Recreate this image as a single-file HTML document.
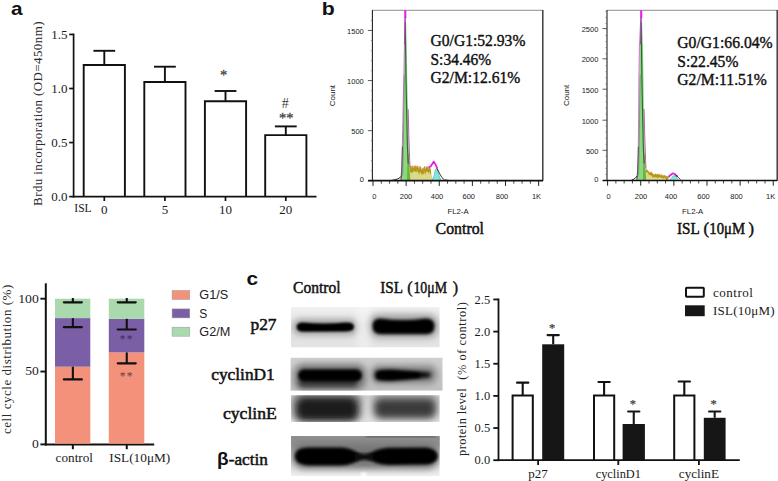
<!DOCTYPE html>
<html><head><meta charset="utf-8"><title>Figure</title>
<style>
html,body{margin:0;padding:0;background:#fff;}
body{width:778px;height:481px;overflow:hidden;font-family:"Liberation Serif",serif;}
svg{display:block;}
</style></head><body>
<svg width="778" height="481" viewBox="0 0 778 481">
<rect x="0" y="0" width="778" height="481" fill="#ffffff"/>
<text x="10.9" y="15.2" font-family="Liberation Sans, sans-serif" font-size="18.5" text-anchor="start" font-weight="bold" fill="#111" textLength="11.5" lengthAdjust="spacingAndGlyphs" >a</text>
<text x="321.8" y="15.4" font-family="Liberation Sans, sans-serif" font-size="18" text-anchor="start" font-weight="bold" fill="#111" textLength="13" lengthAdjust="spacingAndGlyphs" >b</text>
<text x="246.6" y="285" font-family="Liberation Sans, sans-serif" font-size="18.5" text-anchor="start" font-weight="bold" fill="#111" textLength="11.6" lengthAdjust="spacingAndGlyphs" >c</text>
<path d="M83.69999999999999,196.6 V65.0 H124.9 V196.6" fill="#fff" stroke="#111" stroke-width="1.9"/>
<line x1="104.3" y1="65.0" x2="104.3" y2="50.8" stroke="#111" stroke-width="1.9" stroke-linecap="butt"/>
<line x1="93.39999999999999" y1="50.8" x2="115.2" y2="50.8" stroke="#111" stroke-width="1.9" stroke-linecap="butt"/>
<line x1="104.3" y1="196.6" x2="104.3" y2="201" stroke="#111" stroke-width="1.7" stroke-linecap="butt"/>
<text x="104.3" y="213.5" font-family="Liberation Serif, serif" font-size="13" text-anchor="middle" font-weight="normal" fill="#1a1a1a" >0</text>
<path d="M144.3,196.6 V82.0 H185.5 V196.6" fill="#fff" stroke="#111" stroke-width="1.9"/>
<line x1="164.9" y1="82.0" x2="164.9" y2="66.7" stroke="#111" stroke-width="1.9" stroke-linecap="butt"/>
<line x1="154.0" y1="66.7" x2="175.8" y2="66.7" stroke="#111" stroke-width="1.9" stroke-linecap="butt"/>
<line x1="164.9" y1="196.6" x2="164.9" y2="201" stroke="#111" stroke-width="1.7" stroke-linecap="butt"/>
<text x="164.9" y="213.5" font-family="Liberation Serif, serif" font-size="13" text-anchor="middle" font-weight="normal" fill="#1a1a1a" >5</text>
<path d="M204.9,196.6 V101.3 H246.1 V196.6" fill="#fff" stroke="#111" stroke-width="1.9"/>
<line x1="225.5" y1="101.3" x2="225.5" y2="91.0" stroke="#111" stroke-width="1.9" stroke-linecap="butt"/>
<line x1="214.6" y1="91.0" x2="236.4" y2="91.0" stroke="#111" stroke-width="1.9" stroke-linecap="butt"/>
<line x1="225.5" y1="196.6" x2="225.5" y2="201" stroke="#111" stroke-width="1.7" stroke-linecap="butt"/>
<text x="225.5" y="213.5" font-family="Liberation Serif, serif" font-size="13" text-anchor="middle" font-weight="normal" fill="#1a1a1a" >10</text>
<path d="M265.2,196.6 V135.1 H306.40000000000003 V196.6" fill="#fff" stroke="#111" stroke-width="1.9"/>
<line x1="285.8" y1="135.1" x2="285.8" y2="126.4" stroke="#111" stroke-width="1.9" stroke-linecap="butt"/>
<line x1="274.90000000000003" y1="126.4" x2="296.7" y2="126.4" stroke="#111" stroke-width="1.9" stroke-linecap="butt"/>
<line x1="285.8" y1="196.6" x2="285.8" y2="201" stroke="#111" stroke-width="1.7" stroke-linecap="butt"/>
<text x="285.8" y="213.5" font-family="Liberation Serif, serif" font-size="13" text-anchor="middle" font-weight="normal" fill="#1a1a1a" >20</text>
<line x1="73.6" y1="33.55000000000002" x2="73.6" y2="197.5" stroke="#111" stroke-width="1.7" stroke-linecap="butt"/>
<line x1="72.69999999999999" y1="196.6" x2="316.5" y2="196.6" stroke="#111" stroke-width="1.7" stroke-linecap="butt"/>
<line x1="69.2" y1="196.6" x2="73.6" y2="196.6" stroke="#111" stroke-width="1.7" stroke-linecap="butt"/>
<text x="67.4" y="200.9" font-family="Liberation Serif, serif" font-size="13" text-anchor="end" font-weight="normal" fill="#1a1a1a" >0.0</text>
<line x1="69.2" y1="142.55" x2="73.6" y2="142.55" stroke="#111" stroke-width="1.7" stroke-linecap="butt"/>
<text x="67.4" y="146.85000000000002" font-family="Liberation Serif, serif" font-size="13" text-anchor="end" font-weight="normal" fill="#1a1a1a" >0.5</text>
<line x1="69.2" y1="88.5" x2="73.6" y2="88.5" stroke="#111" stroke-width="1.7" stroke-linecap="butt"/>
<text x="67.4" y="92.8" font-family="Liberation Serif, serif" font-size="13" text-anchor="end" font-weight="normal" fill="#1a1a1a" >1.0</text>
<line x1="69.2" y1="34.45000000000002" x2="73.6" y2="34.45000000000002" stroke="#111" stroke-width="1.7" stroke-linecap="butt"/>
<text x="67.4" y="38.750000000000014" font-family="Liberation Serif, serif" font-size="13" text-anchor="end" font-weight="normal" fill="#1a1a1a" >1.5</text>
<text x="74.3" y="212" font-family="Liberation Serif, serif" font-size="13.5" text-anchor="start" font-weight="normal" fill="#1a1a1a" textLength="17.3" lengthAdjust="spacingAndGlyphs" >ISL</text>
<text transform="translate(42.3,205.9) rotate(-90)" font-family="Liberation Serif, serif" font-size="13" fill="#2a2a2a" textLength="184.4" lengthAdjust="spacing">Brdu incorporation (OD=450nm)</text>
<text x="223.6" y="79.6" font-family="Liberation Serif, serif" font-size="14.5" text-anchor="middle" font-weight="normal" fill="#4a4a4a" stroke="#4a4a4a" stroke-width="0.3">*</text>
<text x="285.3" y="108.4" font-family="Liberation Serif, serif" font-size="14" text-anchor="middle" font-weight="normal" fill="#3a3a3a" >#</text>
<text x="286.2" y="122.8" font-family="Liberation Serif, serif" font-size="14.5" text-anchor="middle" font-weight="normal" fill="#4a4a4a" stroke="#4a4a4a" stroke-width="0.3">**</text>
<rect x="372.4" y="10.2" width="170.60000000000002" height="170.5" fill="#fff" stroke="none" stroke-width="0" />
<line x1="372.4" y1="10.299999999999999" x2="543" y2="10.299999999999999" stroke="#808080" stroke-width="0.9" stroke-linecap="butt"/>
<line x1="542.8" y1="9.899999999999999" x2="542.8" y2="180.7" stroke="#333" stroke-width="1.4" stroke-linecap="butt"/>
<line x1="372.4" y1="9.899999999999999" x2="372.4" y2="180.7" stroke="#222" stroke-width="1.1" stroke-linecap="butt"/>
<line x1="367.9" y1="180.7" x2="372.4" y2="180.7" stroke="#333" stroke-width="0.8" stroke-linecap="butt"/>
<text x="363.79999999999995" y="181.89999999999998" font-family="Liberation Sans, sans-serif" font-size="7.5" text-anchor="end" font-weight="normal" fill="#222" >0</text>
<line x1="367.9" y1="130.65" x2="372.4" y2="130.65" stroke="#333" stroke-width="0.8" stroke-linecap="butt"/>
<text x="363.79999999999995" y="134.25" font-family="Liberation Sans, sans-serif" font-size="7.5" text-anchor="end" font-weight="normal" fill="#222" >500</text>
<line x1="367.9" y1="80.55" x2="372.4" y2="80.55" stroke="#333" stroke-width="0.8" stroke-linecap="butt"/>
<text x="363.79999999999995" y="84.14999999999999" font-family="Liberation Sans, sans-serif" font-size="7.5" text-anchor="end" font-weight="normal" fill="#222" >1000</text>
<line x1="367.9" y1="30.45" x2="372.4" y2="30.45" stroke="#333" stroke-width="0.8" stroke-linecap="butt"/>
<text x="363.79999999999995" y="34.05" font-family="Liberation Sans, sans-serif" font-size="7.5" text-anchor="end" font-weight="normal" fill="#222" >1500</text>
<line x1="370.79999999999995" y1="170.69" x2="372.4" y2="170.69" stroke="#666" stroke-width="0.6" stroke-linecap="butt"/>
<line x1="370.79999999999995" y1="160.68" x2="372.4" y2="160.68" stroke="#666" stroke-width="0.6" stroke-linecap="butt"/>
<line x1="370.79999999999995" y1="150.67000000000002" x2="372.4" y2="150.67000000000002" stroke="#666" stroke-width="0.6" stroke-linecap="butt"/>
<line x1="370.79999999999995" y1="140.66000000000003" x2="372.4" y2="140.66000000000003" stroke="#666" stroke-width="0.6" stroke-linecap="butt"/>
<line x1="370.79999999999995" y1="120.64000000000004" x2="372.4" y2="120.64000000000004" stroke="#666" stroke-width="0.6" stroke-linecap="butt"/>
<line x1="370.79999999999995" y1="110.63000000000005" x2="372.4" y2="110.63000000000005" stroke="#666" stroke-width="0.6" stroke-linecap="butt"/>
<line x1="370.79999999999995" y1="100.62000000000006" x2="372.4" y2="100.62000000000006" stroke="#666" stroke-width="0.6" stroke-linecap="butt"/>
<line x1="370.79999999999995" y1="90.61000000000007" x2="372.4" y2="90.61000000000007" stroke="#666" stroke-width="0.6" stroke-linecap="butt"/>
<line x1="370.79999999999995" y1="70.59000000000009" x2="372.4" y2="70.59000000000009" stroke="#666" stroke-width="0.6" stroke-linecap="butt"/>
<line x1="370.79999999999995" y1="60.58000000000009" x2="372.4" y2="60.58000000000009" stroke="#666" stroke-width="0.6" stroke-linecap="butt"/>
<line x1="370.79999999999995" y1="50.57000000000009" x2="372.4" y2="50.57000000000009" stroke="#666" stroke-width="0.6" stroke-linecap="butt"/>
<line x1="370.79999999999995" y1="40.560000000000095" x2="372.4" y2="40.560000000000095" stroke="#666" stroke-width="0.6" stroke-linecap="butt"/>
<line x1="370.79999999999995" y1="20.5400000000001" x2="372.4" y2="20.5400000000001" stroke="#666" stroke-width="0.6" stroke-linecap="butt"/>
<line x1="373.0" y1="180.7" x2="373.0" y2="185.89999999999998" stroke="#222" stroke-width="1.0" stroke-linecap="butt"/>
<line x1="381.2825" y1="180.7" x2="381.2825" y2="183.7" stroke="#333" stroke-width="0.9" stroke-linecap="butt"/>
<line x1="389.565" y1="180.7" x2="389.565" y2="183.7" stroke="#333" stroke-width="0.9" stroke-linecap="butt"/>
<line x1="397.8475" y1="180.7" x2="397.8475" y2="183.7" stroke="#333" stroke-width="0.9" stroke-linecap="butt"/>
<line x1="406.13" y1="180.7" x2="406.13" y2="185.89999999999998" stroke="#222" stroke-width="1.0" stroke-linecap="butt"/>
<line x1="414.4125" y1="180.7" x2="414.4125" y2="183.7" stroke="#333" stroke-width="0.9" stroke-linecap="butt"/>
<line x1="422.695" y1="180.7" x2="422.695" y2="183.7" stroke="#333" stroke-width="0.9" stroke-linecap="butt"/>
<line x1="430.9775" y1="180.7" x2="430.9775" y2="183.7" stroke="#333" stroke-width="0.9" stroke-linecap="butt"/>
<line x1="439.26" y1="180.7" x2="439.26" y2="185.89999999999998" stroke="#222" stroke-width="1.0" stroke-linecap="butt"/>
<line x1="447.5425" y1="180.7" x2="447.5425" y2="183.7" stroke="#333" stroke-width="0.9" stroke-linecap="butt"/>
<line x1="455.825" y1="180.7" x2="455.825" y2="183.7" stroke="#333" stroke-width="0.9" stroke-linecap="butt"/>
<line x1="464.1075" y1="180.7" x2="464.1075" y2="183.7" stroke="#333" stroke-width="0.9" stroke-linecap="butt"/>
<line x1="472.39" y1="180.7" x2="472.39" y2="185.89999999999998" stroke="#222" stroke-width="1.0" stroke-linecap="butt"/>
<line x1="480.6725" y1="180.7" x2="480.6725" y2="183.7" stroke="#333" stroke-width="0.9" stroke-linecap="butt"/>
<line x1="488.95500000000004" y1="180.7" x2="488.95500000000004" y2="183.7" stroke="#333" stroke-width="0.9" stroke-linecap="butt"/>
<line x1="497.2375" y1="180.7" x2="497.2375" y2="183.7" stroke="#333" stroke-width="0.9" stroke-linecap="butt"/>
<line x1="505.52" y1="180.7" x2="505.52" y2="185.89999999999998" stroke="#222" stroke-width="1.0" stroke-linecap="butt"/>
<line x1="513.8025" y1="180.7" x2="513.8025" y2="183.7" stroke="#333" stroke-width="0.9" stroke-linecap="butt"/>
<line x1="522.085" y1="180.7" x2="522.085" y2="183.7" stroke="#333" stroke-width="0.9" stroke-linecap="butt"/>
<line x1="530.3675000000001" y1="180.7" x2="530.3675000000001" y2="183.7" stroke="#333" stroke-width="0.9" stroke-linecap="butt"/>
<line x1="538.65" y1="180.7" x2="538.65" y2="185.89999999999998" stroke="#222" stroke-width="1.0" stroke-linecap="butt"/>
<text x="374.3" y="198.7" font-family="Liberation Sans, sans-serif" font-size="7.5" text-anchor="middle" font-weight="normal" fill="#222" >0</text>
<text x="406" y="198.7" font-family="Liberation Sans, sans-serif" font-size="7.5" text-anchor="middle" font-weight="normal" fill="#222" >200</text>
<text x="437" y="198.7" font-family="Liberation Sans, sans-serif" font-size="7.5" text-anchor="middle" font-weight="normal" fill="#222" >400</text>
<text x="468.8" y="198.7" font-family="Liberation Sans, sans-serif" font-size="7.5" text-anchor="middle" font-weight="normal" fill="#222" >600</text>
<text x="502" y="198.7" font-family="Liberation Sans, sans-serif" font-size="7.5" text-anchor="middle" font-weight="normal" fill="#222" >800</text>
<text x="536.5" y="198.7" font-family="Liberation Sans, sans-serif" font-size="7.5" text-anchor="middle" font-weight="normal" fill="#222" >1K</text>
<text x="458" y="213.8" font-family="Liberation Sans, sans-serif" font-size="8" text-anchor="middle" font-weight="normal" fill="#222" textLength="21.2" lengthAdjust="spacingAndGlyphs" >FL2-A</text>
<text transform="translate(334.9,95.6) rotate(-90)" font-family="Liberation Sans, sans-serif" font-size="8" text-anchor="middle" font-weight="normal" fill="#222" textLength="21.4" lengthAdjust="spacingAndGlyphs">Count</text>
<path d="M408.5,180.7 L410.0,169.2 L410.7,168.4 L411.4,170.8 L412.1,168.0 L412.8,170.3 L413.5,169.5 L414.2,168.1 L414.9,170.3 L415.6,168.0 L416.3,170.0 L417.0,168.3 L417.7,168.4 L418.4,170.0 L419.1,172.0 L419.8,168.7 L420.5,169.2 L421.2,171.1 L421.9,172.7 L422.6,171.0 L423.3,170.1 L424.0,172.9 L424.7,168.5 L425.4,172.4 L426.1,169.7 L426.8,169.1 L427.5,169.0 L428.2,169.9 L428.9,172.4 L429.6,169.4 L430.3,171.3 L431.0,171.6 L433.0,180.7 Z" fill="#dcd98a"/>
<path d="M410.0,167.1 L410.7,166.3 L411.4,168.7 L412.1,165.9 L412.8,168.2 L413.5,167.4 L414.2,166.0 L414.9,168.2 L415.6,165.9 L416.3,167.9 L417.0,166.2 L417.7,166.3 L418.4,167.9 L419.1,169.9 L419.8,166.6 L420.5,167.1 L421.2,169.0 L421.9,170.6 L422.6,168.9 L423.3,168.0 L424.0,170.8 L424.7,166.4 L425.4,170.3 L426.1,167.6 L426.8,167.0 L427.5,166.9 L428.2,167.8 L428.9,170.3 L429.6,167.3 L430.3,169.2 L431.0,169.5 L431.0,174.0 L430.3,174.2 L429.6,171.0 L428.9,174.0 L428.2,171.9 L427.5,172.1 L426.8,171.6 L426.1,172.0 L425.4,175.3 L424.7,171.1 L424.0,175.2 L423.3,173.5 L422.6,174.1 L421.9,174.8 L421.2,174.0 L420.5,171.9 L419.8,172.3 L419.1,175.2 L418.4,172.2 L417.7,172.2 L417.0,170.0 L416.3,172.5 L415.6,171.4 L414.9,172.1 L414.2,170.7 L413.5,171.1 L412.8,173.4 L412.1,171.4 L411.4,173.7 L410.7,172.0 L410.0,171.4 Z" fill="#b09a18"/>
<path d="M410.0,166.8 L410.7,166.0 L411.4,168.4 L412.1,165.6 L412.8,167.9 L413.5,167.1 L414.2,165.7 L414.9,167.9 L415.6,165.6 L416.3,167.6 L417.0,165.9 L417.7,166.0 L418.4,167.6 L419.1,169.6 L419.8,166.3 L420.5,166.8 L421.2,168.7 L421.9,170.3 L422.6,168.6 L423.3,167.7 L424.0,170.5 L424.7,166.1 L425.4,170.0 L426.1,167.3 L426.8,166.7 L427.5,166.6 L428.2,167.5 L428.9,170.0 L429.6,167.0 L430.3,168.9 L431.0,169.2" fill="none" stroke="#c9862a" stroke-width="0.7"/>
<path d="M431.5,180.7 Q434.0,178.7 435.3,169.5 Q436.5,167.9 437.7,169.5 Q439.2,178.7 441.7,180.7 Z" fill="#7fe8de" stroke="#2e9c8c" stroke-width="0.5"/>
<path d="M401.4,180.7 L402.0,172.2 L402.7,146.6 L403.4,109.1 L404.0,81.9 L404.5,58.0 L405.0,27.3 L405.6,11.2 L406.3,27.3 L406.8,58.0 L407.3,81.9 L407.8,104.0 L408.4,129.6 L409.1,155.1 L409.9,172.2 L410.6,180.7 Z" fill="#8ad982"/>
<path d="M407.0,180.7 L407.5,155.1 L408.5,153.4 L409.4,167.1 L410.3,180.7 Z" fill="#6fb436"/>
<path d="M405.3,22.2 L406.0,78.5 L406.6,109.1 L407.4,146.6 L408.2,163.7" fill="none" stroke="#2a5630" stroke-width="1.15" opacity="0.9"/>
<path d="M402.7,175.6 L403.5,129.6 L404.3,75.1" fill="none" stroke="#3c7a3c" stroke-width="0.7" opacity="0.7"/>
<path d="M400.8,180.7 L401.6,168.8 L402.4,143.2 L403.2,104.0 L404.0,69.9 L404.7,27.3 L405.1,10.3" fill="none" stroke="#c444c0" stroke-width="0.75"/>
<path d="M401.1,180.7 L401.8,170.5 L402.5,146.6" fill="none" stroke="#333" stroke-width="0.7"/>
<path d="M405.3,10.3 L405.4,18.0" fill="none" stroke="#f01cf0" stroke-width="2"/>
<path d="M405.2,17.1 L404.7,44.4" fill="none" stroke="#a040a8" stroke-width="1.1"/>
<path d="M408.2,109.1 L408.8,134.7 L409.7,160.3 L410.0,167.0" fill="none" stroke="#b03aa0" stroke-width="0.8"/>
<path d="M428.5,167.6 L430.8,166.2 L433.8,161.6 L435.6,164.6 L437.4,168.6" fill="none" stroke="#e222e0" stroke-width="1.8" stroke-linejoin="round"/>
<path d="M391.6,180.39999999999998 Q399.1,179.5 401.3,176.2" fill="none" stroke="#222" stroke-width="1"/>
<path d="M437.1,168.5 Q440.0,174.7 442.0,177.7 T448.5,180.39999999999998" fill="none" stroke="#222" stroke-width="0.9"/>
<line x1="368.09999999999997" y1="180.7" x2="543" y2="180.7" stroke="#111" stroke-width="1.7" stroke-linecap="butt"/>
<text x="430.5" y="45.8" font-family="Liberation Serif, serif" font-size="15.8" text-anchor="start" font-weight="normal" fill="#111" textLength="94.9" lengthAdjust="spacingAndGlyphs" stroke="#111" stroke-width="0.4">G0/G1:52.93%</text>
<text x="430.5" y="64.6" font-family="Liberation Serif, serif" font-size="15.8" text-anchor="start" font-weight="normal" fill="#111" textLength="60.7" lengthAdjust="spacingAndGlyphs" stroke="#111" stroke-width="0.4">S:34.46%</text>
<text x="430.5" y="83.3" font-family="Liberation Serif, serif" font-size="15.8" text-anchor="start" font-weight="normal" fill="#111" textLength="89.8" lengthAdjust="spacingAndGlyphs" stroke="#111" stroke-width="0.4">G2/M:12.61%</text>
<text x="435.6" y="233.6" font-family="Liberation Serif, serif" font-size="17" text-anchor="start" font-weight="normal" fill="#111" textLength="48.4" lengthAdjust="spacingAndGlyphs" stroke="#111" stroke-width="0.5">Control</text>
<rect x="607" y="10.2" width="170.39999999999998" height="170.3" fill="#fff" stroke="none" stroke-width="0" />
<line x1="607" y1="10.299999999999999" x2="777.4" y2="10.299999999999999" stroke="#808080" stroke-width="0.9" stroke-linecap="butt"/>
<line x1="777.1999999999999" y1="9.899999999999999" x2="777.1999999999999" y2="180.5" stroke="#333" stroke-width="1.4" stroke-linecap="butt"/>
<line x1="607" y1="9.899999999999999" x2="607" y2="180.5" stroke="#222" stroke-width="1.1" stroke-linecap="butt"/>
<line x1="602.5" y1="180.5" x2="607" y2="180.5" stroke="#333" stroke-width="0.8" stroke-linecap="butt"/>
<text x="598.4" y="181.7" font-family="Liberation Sans, sans-serif" font-size="7.5" text-anchor="end" font-weight="normal" fill="#222" >0</text>
<line x1="602.5" y1="150.3" x2="607" y2="150.3" stroke="#333" stroke-width="0.8" stroke-linecap="butt"/>
<text x="598.4" y="153.9" font-family="Liberation Sans, sans-serif" font-size="7.5" text-anchor="end" font-weight="normal" fill="#222" >500</text>
<line x1="602.5" y1="120.2" x2="607" y2="120.2" stroke="#333" stroke-width="0.8" stroke-linecap="butt"/>
<text x="598.4" y="123.8" font-family="Liberation Sans, sans-serif" font-size="7.5" text-anchor="end" font-weight="normal" fill="#222" >1000</text>
<line x1="602.5" y1="89.2" x2="607" y2="89.2" stroke="#333" stroke-width="0.8" stroke-linecap="butt"/>
<text x="598.4" y="92.8" font-family="Liberation Sans, sans-serif" font-size="7.5" text-anchor="end" font-weight="normal" fill="#222" >1500</text>
<line x1="602.5" y1="58.8" x2="607" y2="58.8" stroke="#333" stroke-width="0.8" stroke-linecap="butt"/>
<text x="598.4" y="62.4" font-family="Liberation Sans, sans-serif" font-size="7.5" text-anchor="end" font-weight="normal" fill="#222" >2000</text>
<line x1="602.5" y1="28.6" x2="607" y2="28.6" stroke="#333" stroke-width="0.8" stroke-linecap="butt"/>
<text x="598.4" y="32.2" font-family="Liberation Sans, sans-serif" font-size="7.5" text-anchor="end" font-weight="normal" fill="#222" >2500</text>
<line x1="605.4" y1="174.46" x2="607" y2="174.46" stroke="#666" stroke-width="0.6" stroke-linecap="butt"/>
<line x1="605.4" y1="168.42000000000002" x2="607" y2="168.42000000000002" stroke="#666" stroke-width="0.6" stroke-linecap="butt"/>
<line x1="605.4" y1="162.38000000000002" x2="607" y2="162.38000000000002" stroke="#666" stroke-width="0.6" stroke-linecap="butt"/>
<line x1="605.4" y1="156.34000000000003" x2="607" y2="156.34000000000003" stroke="#666" stroke-width="0.6" stroke-linecap="butt"/>
<line x1="605.4" y1="144.26000000000005" x2="607" y2="144.26000000000005" stroke="#666" stroke-width="0.6" stroke-linecap="butt"/>
<line x1="605.4" y1="138.22000000000006" x2="607" y2="138.22000000000006" stroke="#666" stroke-width="0.6" stroke-linecap="butt"/>
<line x1="605.4" y1="132.18000000000006" x2="607" y2="132.18000000000006" stroke="#666" stroke-width="0.6" stroke-linecap="butt"/>
<line x1="605.4" y1="126.14000000000007" x2="607" y2="126.14000000000007" stroke="#666" stroke-width="0.6" stroke-linecap="butt"/>
<line x1="605.4" y1="114.06000000000009" x2="607" y2="114.06000000000009" stroke="#666" stroke-width="0.6" stroke-linecap="butt"/>
<line x1="605.4" y1="108.0200000000001" x2="607" y2="108.0200000000001" stroke="#666" stroke-width="0.6" stroke-linecap="butt"/>
<line x1="605.4" y1="101.9800000000001" x2="607" y2="101.9800000000001" stroke="#666" stroke-width="0.6" stroke-linecap="butt"/>
<line x1="605.4" y1="95.94000000000011" x2="607" y2="95.94000000000011" stroke="#666" stroke-width="0.6" stroke-linecap="butt"/>
<line x1="605.4" y1="83.86000000000013" x2="607" y2="83.86000000000013" stroke="#666" stroke-width="0.6" stroke-linecap="butt"/>
<line x1="605.4" y1="77.82000000000014" x2="607" y2="77.82000000000014" stroke="#666" stroke-width="0.6" stroke-linecap="butt"/>
<line x1="605.4" y1="71.78000000000014" x2="607" y2="71.78000000000014" stroke="#666" stroke-width="0.6" stroke-linecap="butt"/>
<line x1="605.4" y1="65.74000000000015" x2="607" y2="65.74000000000015" stroke="#666" stroke-width="0.6" stroke-linecap="butt"/>
<line x1="605.4" y1="53.66000000000015" x2="607" y2="53.66000000000015" stroke="#666" stroke-width="0.6" stroke-linecap="butt"/>
<line x1="605.4" y1="47.620000000000154" x2="607" y2="47.620000000000154" stroke="#666" stroke-width="0.6" stroke-linecap="butt"/>
<line x1="605.4" y1="41.580000000000155" x2="607" y2="41.580000000000155" stroke="#666" stroke-width="0.6" stroke-linecap="butt"/>
<line x1="605.4" y1="35.540000000000155" x2="607" y2="35.540000000000155" stroke="#666" stroke-width="0.6" stroke-linecap="butt"/>
<line x1="605.4" y1="23.460000000000157" x2="607" y2="23.460000000000157" stroke="#666" stroke-width="0.6" stroke-linecap="butt"/>
<line x1="605.4" y1="17.420000000000158" x2="607" y2="17.420000000000158" stroke="#666" stroke-width="0.6" stroke-linecap="butt"/>
<line x1="605.4" y1="11.38000000000016" x2="607" y2="11.38000000000016" stroke="#666" stroke-width="0.6" stroke-linecap="butt"/>
<line x1="607.6" y1="180.5" x2="607.6" y2="185.7" stroke="#222" stroke-width="1.0" stroke-linecap="butt"/>
<line x1="615.8825" y1="180.5" x2="615.8825" y2="183.5" stroke="#333" stroke-width="0.9" stroke-linecap="butt"/>
<line x1="624.1650000000001" y1="180.5" x2="624.1650000000001" y2="183.5" stroke="#333" stroke-width="0.9" stroke-linecap="butt"/>
<line x1="632.4475" y1="180.5" x2="632.4475" y2="183.5" stroke="#333" stroke-width="0.9" stroke-linecap="butt"/>
<line x1="640.73" y1="180.5" x2="640.73" y2="185.7" stroke="#222" stroke-width="1.0" stroke-linecap="butt"/>
<line x1="649.0125" y1="180.5" x2="649.0125" y2="183.5" stroke="#333" stroke-width="0.9" stroke-linecap="butt"/>
<line x1="657.2950000000001" y1="180.5" x2="657.2950000000001" y2="183.5" stroke="#333" stroke-width="0.9" stroke-linecap="butt"/>
<line x1="665.5775" y1="180.5" x2="665.5775" y2="183.5" stroke="#333" stroke-width="0.9" stroke-linecap="butt"/>
<line x1="673.86" y1="180.5" x2="673.86" y2="185.7" stroke="#222" stroke-width="1.0" stroke-linecap="butt"/>
<line x1="682.1425" y1="180.5" x2="682.1425" y2="183.5" stroke="#333" stroke-width="0.9" stroke-linecap="butt"/>
<line x1="690.4250000000001" y1="180.5" x2="690.4250000000001" y2="183.5" stroke="#333" stroke-width="0.9" stroke-linecap="butt"/>
<line x1="698.7075" y1="180.5" x2="698.7075" y2="183.5" stroke="#333" stroke-width="0.9" stroke-linecap="butt"/>
<line x1="706.99" y1="180.5" x2="706.99" y2="185.7" stroke="#222" stroke-width="1.0" stroke-linecap="butt"/>
<line x1="715.2725" y1="180.5" x2="715.2725" y2="183.5" stroke="#333" stroke-width="0.9" stroke-linecap="butt"/>
<line x1="723.5550000000001" y1="180.5" x2="723.5550000000001" y2="183.5" stroke="#333" stroke-width="0.9" stroke-linecap="butt"/>
<line x1="731.8375000000001" y1="180.5" x2="731.8375000000001" y2="183.5" stroke="#333" stroke-width="0.9" stroke-linecap="butt"/>
<line x1="740.12" y1="180.5" x2="740.12" y2="185.7" stroke="#222" stroke-width="1.0" stroke-linecap="butt"/>
<line x1="748.4025" y1="180.5" x2="748.4025" y2="183.5" stroke="#333" stroke-width="0.9" stroke-linecap="butt"/>
<line x1="756.6850000000001" y1="180.5" x2="756.6850000000001" y2="183.5" stroke="#333" stroke-width="0.9" stroke-linecap="butt"/>
<line x1="764.9675" y1="180.5" x2="764.9675" y2="183.5" stroke="#333" stroke-width="0.9" stroke-linecap="butt"/>
<line x1="773.25" y1="180.5" x2="773.25" y2="185.7" stroke="#222" stroke-width="1.0" stroke-linecap="butt"/>
<text x="608.6" y="198.7" font-family="Liberation Sans, sans-serif" font-size="7.5" text-anchor="middle" font-weight="normal" fill="#222" >0</text>
<text x="641" y="198.7" font-family="Liberation Sans, sans-serif" font-size="7.5" text-anchor="middle" font-weight="normal" fill="#222" >200</text>
<text x="671" y="198.7" font-family="Liberation Sans, sans-serif" font-size="7.5" text-anchor="middle" font-weight="normal" fill="#222" >400</text>
<text x="703.5" y="198.7" font-family="Liberation Sans, sans-serif" font-size="7.5" text-anchor="middle" font-weight="normal" fill="#222" >600</text>
<text x="736.5" y="198.7" font-family="Liberation Sans, sans-serif" font-size="7.5" text-anchor="middle" font-weight="normal" fill="#222" >800</text>
<text x="770.7" y="198.7" font-family="Liberation Sans, sans-serif" font-size="7.5" text-anchor="middle" font-weight="normal" fill="#222" >1K</text>
<text x="692.7" y="213.8" font-family="Liberation Sans, sans-serif" font-size="8" text-anchor="middle" font-weight="normal" fill="#222" textLength="21.2" lengthAdjust="spacingAndGlyphs" >FL2-A</text>
<text transform="translate(569.1,95.4) rotate(-90)" font-family="Liberation Sans, sans-serif" font-size="8" text-anchor="middle" font-weight="normal" fill="#222" textLength="21.4" lengthAdjust="spacingAndGlyphs">Count</text>
<path d="M644.5,180.5 L646.0,171.7 L646.7,172.1 L647.4,172.7 L648.1,173.0 L648.8,174.2 L649.5,174.9 L650.2,174.4 L650.9,175.1 L651.6,174.4 L652.3,175.9 L653.0,176.1 L653.7,176.9 L654.4,176.9 L655.1,176.1 L655.8,176.5 L656.5,177.2 L657.2,176.2 L657.9,177.1 L658.6,176.7 L659.3,176.8 L660.0,176.8 L660.7,178.1 L661.4,177.1 L662.1,177.4 L662.8,177.7 L663.5,178.7 L664.2,177.3 L664.9,178.0 L665.6,178.2 L666.3,178.9 L667.0,178.8 L667.7,178.9 L668.4,177.9 L670.0,180.5 Z" fill="#dcd98a"/>
<path d="M646.0,169.6 L646.7,170.0 L647.4,170.6 L648.1,170.9 L648.8,172.1 L649.5,172.8 L650.2,172.3 L650.9,173.0 L651.6,172.3 L652.3,173.8 L653.0,174.0 L653.7,174.8 L654.4,174.8 L655.1,174.0 L655.8,174.4 L656.5,175.1 L657.2,174.1 L657.9,175.0 L658.6,174.6 L659.3,174.7 L660.0,174.7 L660.7,176.0 L661.4,175.0 L662.1,175.3 L662.8,175.6 L663.5,176.6 L664.2,175.2 L664.9,175.9 L665.6,176.1 L666.3,176.8 L667.0,176.7 L667.7,176.8 L668.4,175.8 L668.4,178.5 L667.7,179.4 L667.0,180.0 L666.3,180.0 L665.6,178.4 L664.9,178.2 L664.2,177.6 L663.5,179.0 L662.8,178.3 L662.1,178.1 L661.4,177.4 L660.7,178.1 L660.0,177.3 L659.3,177.2 L658.6,177.5 L657.9,178.4 L657.2,177.1 L656.5,177.8 L655.8,177.3 L655.1,177.0 L654.4,176.9 L653.7,178.1 L653.0,177.1 L652.3,177.0 L651.6,175.4 L650.9,175.7 L650.2,174.9 L649.5,175.0 L648.8,175.0 L648.1,173.1 L647.4,172.8 L646.7,172.4 L646.0,171.9 Z" fill="#b09a18"/>
<path d="M646.0,169.3 L646.7,169.7 L647.4,170.3 L648.1,170.6 L648.8,171.8 L649.5,172.5 L650.2,172.0 L650.9,172.7 L651.6,172.0 L652.3,173.5 L653.0,173.7 L653.7,174.5 L654.4,174.5 L655.1,173.7 L655.8,174.1 L656.5,174.8 L657.2,173.8 L657.9,174.7 L658.6,174.3 L659.3,174.4 L660.0,174.4 L660.7,175.7 L661.4,174.7 L662.1,175.0 L662.8,175.3 L663.5,176.3 L664.2,174.9 L664.9,175.6 L665.6,175.8 L666.3,176.5 L667.0,176.4 L667.7,176.5 L668.4,175.5" fill="none" stroke="#c9862a" stroke-width="0.7"/>
<path d="M669,180.5 Q671.5,178.5 672.8,176.2 Q674,174.6 675.2,176.2 Q676.7,178.5 679.2,180.5 Z" fill="#7fe8de" stroke="#2e9c8c" stroke-width="0.5"/>
<path d="M637.3,180.5 L638.0,172.0 L638.6,155.0 L639.0,120.9 L639.3,78.4 L639.8,47.7 L640.6,27.3 L641.5,11.2 L642.3,27.3 L643.0,47.7 L643.5,78.4 L643.9,112.4 L644.4,137.9 L645.1,160.1 L645.9,172.0 L646.5,180.5 Z" fill="#8ad982"/>
<path d="M642.9,180.5 L643.4,155.0 L644.4,153.3 L645.3,166.9 L646.2,180.5 Z" fill="#6fb436"/>
<path d="M641.2,22.2 L641.9,78.4 L642.5,109.0 L643.3,146.5 L644.1,163.5" fill="none" stroke="#2a5630" stroke-width="1.15" opacity="0.9"/>
<path d="M638.6,175.4 L639.4,129.4 L640.2,75.0" fill="none" stroke="#3c7a3c" stroke-width="0.7" opacity="0.7"/>
<path d="M636.7,180.5 L637.6,170.3 L638.2,153.3 L638.6,119.2 L638.9,78.4 L639.4,47.7 L640.3,27.3 L641.0,10.3" fill="none" stroke="#c444c0" stroke-width="0.75"/>
<path d="M637.0,180.5 L637.7,170.3 L638.4,146.5" fill="none" stroke="#333" stroke-width="0.7"/>
<path d="M641.2,10.3 L641.3,18.0" fill="none" stroke="#f01cf0" stroke-width="2"/>
<path d="M641.1,17.1 L640.6,44.3" fill="none" stroke="#a040a8" stroke-width="1.1"/>
<path d="M644.1,109.0 L644.7,134.5 L645.6,160.1 L646.0,168.3" fill="none" stroke="#b03aa0" stroke-width="0.8"/>
<path d="M668.6,177.2 L670.4,175.2 L672.6,173.4 L674.2,173.6 L676.4,175.6 L677.6,177" fill="none" stroke="#e222e0" stroke-width="1.8" stroke-linejoin="round"/>
<path d="M631.5,180.2 Q635.0,179.3 637.2,176.0" fill="none" stroke="#222" stroke-width="1"/>
<path d="M675.5,174.6 Q678.5,177.5 680.5,179.6" fill="none" stroke="#222" stroke-width="0.9"/>
<line x1="602.7" y1="180.5" x2="777.4" y2="180.5" stroke="#111" stroke-width="1.7" stroke-linecap="butt"/>
<text x="677.3" y="48.3" font-family="Liberation Serif, serif" font-size="15.8" text-anchor="start" font-weight="normal" fill="#111" textLength="95.3" lengthAdjust="spacingAndGlyphs" stroke="#111" stroke-width="0.4">G0/G1:66.04%</text>
<text x="677.3" y="66.6" font-family="Liberation Serif, serif" font-size="15.8" text-anchor="start" font-weight="normal" fill="#111" textLength="61.1" lengthAdjust="spacingAndGlyphs" stroke="#111" stroke-width="0.4">S:22.45%</text>
<text x="677.3" y="85.4" font-family="Liberation Serif, serif" font-size="15.8" text-anchor="start" font-weight="normal" fill="#111" textLength="89.5" lengthAdjust="spacingAndGlyphs" stroke="#111" stroke-width="0.4">G2/M:11.51%</text>
<text x="677" y="233.5" font-family="Liberation Serif, serif" font-size="16.5" text-anchor="start" font-weight="normal" fill="#111" textLength="22.7" lengthAdjust="spacingAndGlyphs" stroke="#111" stroke-width="0.5">ISL</text>
<text x="703.6" y="233.5" font-family="Liberation Serif, serif" font-size="16.5" text-anchor="start" font-weight="normal" fill="#111" stroke="#111" stroke-width="0.5">(</text>
<text x="709.3" y="233.5" font-family="Liberation Serif, serif" font-size="16.5" text-anchor="start" font-weight="normal" fill="#111" textLength="35.7" lengthAdjust="spacingAndGlyphs" stroke="#111" stroke-width="0.5">10μM</text>
<text x="748.6" y="233.5" font-family="Liberation Serif, serif" font-size="16.5" text-anchor="start" font-weight="normal" fill="#111" stroke="#111" stroke-width="0.5">)</text>
<line x1="45.8" y1="283.3" x2="45.8" y2="445.4" stroke="#111" stroke-width="2" stroke-linecap="butt"/>
<line x1="44.8" y1="444.4" x2="154.2" y2="444.4" stroke="#111" stroke-width="2" stroke-linecap="butt"/>
<line x1="40.4" y1="444.4" x2="45.8" y2="444.4" stroke="#111" stroke-width="1.9" stroke-linecap="butt"/>
<text x="38.8" y="448.2" font-family="Liberation Serif, serif" font-size="13" text-anchor="end" font-weight="normal" fill="#1a1a1a" textLength="6.8" lengthAdjust="spacingAndGlyphs" >0</text>
<line x1="40.4" y1="371.54999999999995" x2="45.8" y2="371.54999999999995" stroke="#111" stroke-width="1.9" stroke-linecap="butt"/>
<text x="38.8" y="375.34999999999997" font-family="Liberation Serif, serif" font-size="13" text-anchor="end" font-weight="normal" fill="#1a1a1a" textLength="13.6" lengthAdjust="spacingAndGlyphs" >50</text>
<line x1="40.4" y1="298.69999999999993" x2="45.8" y2="298.69999999999993" stroke="#111" stroke-width="1.9" stroke-linecap="butt"/>
<text x="38.8" y="302.49999999999994" font-family="Liberation Serif, serif" font-size="13" text-anchor="end" font-weight="normal" fill="#1a1a1a" textLength="20.6" lengthAdjust="spacingAndGlyphs" >100</text>
<rect x="55.0" y="366.7" width="35.3" height="76.89999999999999" fill="#f4917a" stroke="none" stroke-width="0" />
<rect x="55.0" y="318.1" width="35.3" height="48.599999999999966" fill="#7a5fa6" stroke="none" stroke-width="0" />
<rect x="55.0" y="298.7" width="35.3" height="19.400000000000034" fill="#a9d9ad" stroke="none" stroke-width="0" />
<line x1="72.85000000000001" y1="444.4" x2="72.85000000000001" y2="449.2" stroke="#111" stroke-width="2" stroke-linecap="butt"/>
<line x1="72.85000000000001" y1="298.0" x2="72.85000000000001" y2="302.3" stroke="#111" stroke-width="2.1" stroke-linecap="butt"/>
<line x1="63.85000000000001" y1="302.3" x2="81.85000000000001" y2="302.3" stroke="#111" stroke-width="2.2" stroke-linecap="round"/>
<line x1="72.85000000000001" y1="318.1" x2="72.85000000000001" y2="327.20000000000005" stroke="#111" stroke-width="2.1" stroke-linecap="butt"/>
<line x1="63.85000000000001" y1="327.20000000000005" x2="81.85000000000001" y2="327.20000000000005" stroke="#111" stroke-width="2.2" stroke-linecap="round"/>
<line x1="72.85000000000001" y1="366.7" x2="72.85000000000001" y2="379.4" stroke="#111" stroke-width="2.1" stroke-linecap="butt"/>
<line x1="63.85000000000001" y1="379.4" x2="81.85000000000001" y2="379.4" stroke="#111" stroke-width="2.2" stroke-linecap="round"/>
<rect x="108.8" y="352.4" width="35.5" height="91.2" fill="#f4917a" stroke="none" stroke-width="0" />
<rect x="108.8" y="318.8" width="35.5" height="33.599999999999966" fill="#7a5fa6" stroke="none" stroke-width="0" />
<rect x="108.8" y="298.7" width="35.5" height="20.100000000000023" fill="#a9d9ad" stroke="none" stroke-width="0" />
<line x1="126.75" y1="444.4" x2="126.75" y2="449.2" stroke="#111" stroke-width="2" stroke-linecap="butt"/>
<line x1="126.75" y1="298.0" x2="126.75" y2="302.3" stroke="#111" stroke-width="2.1" stroke-linecap="butt"/>
<line x1="117.75" y1="302.3" x2="135.75" y2="302.3" stroke="#111" stroke-width="2.2" stroke-linecap="round"/>
<line x1="126.75" y1="318.8" x2="126.75" y2="329.5" stroke="#111" stroke-width="2.1" stroke-linecap="butt"/>
<line x1="117.75" y1="329.5" x2="135.75" y2="329.5" stroke="#111" stroke-width="2.2" stroke-linecap="round"/>
<line x1="126.75" y1="352.4" x2="126.75" y2="363.29999999999995" stroke="#111" stroke-width="2.1" stroke-linecap="butt"/>
<line x1="117.75" y1="363.29999999999995" x2="135.75" y2="363.29999999999995" stroke="#111" stroke-width="2.2" stroke-linecap="round"/>
<text x="126.8" y="380.0" font-family="Liberation Serif, serif" font-size="11.5" text-anchor="middle" font-weight="normal" fill="#5e4040" letter-spacing="1.3">**</text>
<text x="126.8" y="342.8" font-family="Liberation Serif, serif" font-size="11.5" text-anchor="middle" font-weight="normal" fill="#3c2c58" letter-spacing="1.3">**</text>
<text x="74.3" y="462" font-family="Liberation Serif, serif" font-size="13" text-anchor="middle" font-weight="normal" fill="#1a1a1a" textLength="37.4" lengthAdjust="spacingAndGlyphs" >control</text>
<text x="139.75" y="462" font-family="Liberation Serif, serif" font-size="13" text-anchor="middle" font-weight="normal" fill="#1a1a1a" textLength="61" lengthAdjust="spacingAndGlyphs" >ISL(10μM)</text>
<text transform="translate(10.8,359.4) rotate(-90)" font-family="Liberation Serif, serif" font-size="13" text-anchor="middle" font-weight="normal" fill="#2a2a2a" textLength="149.4" lengthAdjust="spacing">cell cycle distribution (%)</text>
<rect x="172.1" y="290.5" width="17.7" height="9.0" fill="#f4917a" stroke="#999" stroke-width="0.5" />
<text x="199.3" y="299.4" font-family="Liberation Sans, sans-serif" font-size="12" text-anchor="start" font-weight="normal" fill="#222" textLength="29" lengthAdjust="spacingAndGlyphs" >G1/S</text>
<rect x="172.1" y="308.9" width="17.7" height="9.0" fill="#7a5fa6" stroke="#999" stroke-width="0.5" />
<text x="199.3" y="317.5" font-family="Liberation Sans, sans-serif" font-size="12" text-anchor="start" font-weight="normal" fill="#222" >S</text>
<rect x="172.1" y="327.2" width="17.7" height="9.0" fill="#a9d9ad" stroke="#999" stroke-width="0.5" />
<text x="199.3" y="336.1" font-family="Liberation Sans, sans-serif" font-size="12" text-anchor="start" font-weight="normal" fill="#222" textLength="31" lengthAdjust="spacingAndGlyphs" >G2/M</text>
<defs>
<filter id="b0" x="-20%" y="-60%" width="140%" height="220%"><feGaussianBlur stdDeviation="1.1"/></filter>
<filter id="b1" x="-20%" y="-60%" width="140%" height="220%"><feGaussianBlur stdDeviation="1.4"/></filter>
<filter id="b2" x="-20%" y="-60%" width="140%" height="220%"><feGaussianBlur stdDeviation="2.2"/></filter>
<filter id="b3" x="-20%" y="-60%" width="140%" height="220%"><feGaussianBlur stdDeviation="3.2"/></filter>
<filter id="b4" x="-20%" y="-80%" width="140%" height="260%"><feGaussianBlur stdDeviation="4.5"/></filter>
<linearGradient id="g1" x1="0" y1="0" x2="0" y2="1"><stop offset="0" stop-color="#f1f1f1"/><stop offset="0.45" stop-color="#e2e2e2"/><stop offset="1" stop-color="#e4e4e4"/></linearGradient>
<linearGradient id="g2" x1="0" y1="0" x2="0" y2="1"><stop offset="0" stop-color="#d0d0d0"/><stop offset="1" stop-color="#c0c0c0"/></linearGradient>
<linearGradient id="g3" x1="0" y1="0" x2="0" y2="1"><stop offset="0" stop-color="#cfcfcf"/><stop offset="1" stop-color="#e0e0e0"/></linearGradient>
<linearGradient id="g4" x1="0" y1="0" x2="0" y2="1"><stop offset="0" stop-color="#c2c2c2"/><stop offset="0.65" stop-color="#d4d4d4"/><stop offset="1" stop-color="#f0f0f0"/></linearGradient>
<clipPath id="c1"><rect x="291" y="307" width="148.7" height="40.5"/></clipPath>
<clipPath id="c2"><rect x="290.4" y="357.5" width="152.3" height="33.2"/></clipPath>
<clipPath id="c3"><rect x="291" y="395.2" width="148.7" height="26.8"/></clipPath>
<clipPath id="c4"><rect x="291" y="436.1" width="148.7" height="40.2"/></clipPath>
</defs>
<g clip-path="url(#c1)"><rect x="291" y="307" width="148.7" height="40.5" fill="url(#g1)"/>
<rect x="293" y="319" width="64" height="16" rx="7" fill="#8a8a8a" opacity="0.75" filter="url(#b3)"/>
<rect x="369" y="314" width="69" height="24" rx="9" fill="#8a8a8a" opacity="0.75" filter="url(#b3)"/>
<rect x="357" y="305" width="13" height="45" fill="#fff" opacity="0.35" filter="url(#b3)"/>
<path d="M296.6,327 Q296.6,322.3 303,322.5 Q325,324.7 345,322.5 Q354,321.9 354,326.8 Q354,331.5 346,331.4 L304,331.7 Q296.6,331.8 296.6,327 Z" fill="#000" filter="url(#b0)"/>
<path d="M372.5,326 Q372.5,318 381,318.4 Q403,321.4 425,318.4 Q434.5,318 434.5,326 Q434.5,334.2 426,334.2 L381,334.2 Q372.5,334.2 372.5,326 Z" fill="#000" filter="url(#b1)"/>
</g>
<g clip-path="url(#c2)"><rect x="290.4" y="357.5" width="152.3" height="33.2" fill="url(#g2)"/>
<rect x="294" y="364" width="72" height="26" rx="9" fill="#777" filter="url(#b3)"/>
<rect x="371" y="365" width="66" height="19" rx="8" fill="#8a8a8a" filter="url(#b3)"/>
<rect x="299" y="378" width="58" height="9" rx="4" fill="#3a3a3a" filter="url(#b2)"/>
<rect x="298" y="369.2" width="64" height="12.2" rx="6" fill="#000" filter="url(#b1)"/>
<path d="M375,372 Q377,369.2 392,369.8 L429,372.2 Q433.5,374.8 429,377.6 L395,380.4 Q377,381.4 375,378.5 Z" fill="#060606" filter="url(#b2)"/>
<path d="M377,372.5 Q379,370.6 392,371 L420,373 L420,377.4 L395,379.2 Q379,380 377,378 Z" fill="#000" filter="url(#b1)"/>
</g>
<g clip-path="url(#c3)"><rect x="291" y="395.2" width="148.7" height="26.8" fill="url(#g3)"/>
<rect x="292" y="392" width="70" height="30" rx="9" fill="#8c8c8c" filter="url(#b3)"/>
<rect x="372" y="393" width="66" height="27" rx="9" fill="#999" filter="url(#b3)"/>
<rect x="296.5" y="397.6" width="61" height="22.4" rx="8" fill="#1e1e1e" filter="url(#b3)"/>
<rect x="375.5" y="399.6" width="59" height="17.4" rx="6.5" fill="#3a3a3a" filter="url(#b3)"/>
</g>
<g clip-path="url(#c4)"><rect x="291" y="436.1" width="148.7" height="40.2" fill="url(#g4)"/>
<rect x="286" y="430" width="160" height="20" fill="#8e8e8e" filter="url(#b3)"/>
<rect x="292" y="443" width="147" height="26" rx="12" fill="#777" filter="url(#b3)"/>
<rect x="366" y="435.4" width="70" height="1.6" fill="#444" filter="url(#b1)"/>
<path d="M294.8,456.3 Q295.4,447.6 308,447.4 L342,447.4 Q355,448.4 363,457 Q354,465.4 340,465.6 L308,465.4 Q295.4,464.8 294.8,456.3 Z" fill="#000" filter="url(#b1)"/>
<path d="M365.5,457 Q374,448.8 388,447.8 L424,447.6 Q437.2,448.4 437.8,456.2 Q437.2,464 424,464.6 L388,465 Q375,464.6 365.5,457 Z" fill="#000" filter="url(#b1)"/>
<rect x="355" y="453.6" width="18" height="6.4" fill="#111" filter="url(#b1)"/>
<ellipse cx="363.6" cy="474.6" rx="3.2" ry="2.2" fill="#fff" opacity="0.9" filter="url(#b0)"/>
</g>
<text x="293.1" y="293" font-family="Liberation Serif, serif" font-size="16" text-anchor="start" font-weight="normal" fill="#111" textLength="47.4" lengthAdjust="spacingAndGlyphs" stroke="#111" stroke-width="0.45">Control</text>
<text x="380.3" y="293" font-family="Liberation Serif, serif" font-size="16" text-anchor="start" font-weight="normal" fill="#111" textLength="22.7" lengthAdjust="spacingAndGlyphs" stroke="#111" stroke-width="0.45">ISL</text>
<text x="407.2" y="293" font-family="Liberation Serif, serif" font-size="16" text-anchor="start" font-weight="normal" fill="#111" stroke="#111" stroke-width="0.45">(</text>
<text x="413.4" y="293" font-family="Liberation Serif, serif" font-size="16" text-anchor="start" font-weight="normal" fill="#111" textLength="33.6" lengthAdjust="spacingAndGlyphs" stroke="#111" stroke-width="0.45">10μM</text>
<text x="452.8" y="293" font-family="Liberation Serif, serif" font-size="16" text-anchor="start" font-weight="normal" fill="#111" stroke="#111" stroke-width="0.45">)</text>
<text x="250.5" y="329.5" font-family="Liberation Serif, serif" font-size="17" text-anchor="start" font-weight="normal" fill="#111" textLength="26" lengthAdjust="spacingAndGlyphs" stroke="#111" stroke-width="0.5">p27</text>
<text x="211.2" y="380.4" font-family="Liberation Serif, serif" font-size="17" text-anchor="start" font-weight="normal" fill="#111" textLength="63.6" lengthAdjust="spacingAndGlyphs" stroke="#111" stroke-width="0.5">cyclinD1</text>
<text x="222.9" y="418.8" font-family="Liberation Serif, serif" font-size="17" text-anchor="start" font-weight="normal" fill="#111" textLength="53.9" lengthAdjust="spacingAndGlyphs" stroke="#111" stroke-width="0.5">cyclinE</text>
<text x="217" y="464.9" font-family="Liberation Sans, sans-serif" font-size="19" text-anchor="start" font-weight="bold" fill="#111" >β</text>
<text x="228.7" y="464.9" font-family="Liberation Serif, serif" font-size="17" text-anchor="start" font-weight="normal" fill="#111" textLength="39.1" lengthAdjust="spacingAndGlyphs" stroke="#111" stroke-width="0.5">-actin</text>
<path d="M512.6,460.2 V395.6 H532.8000000000001 V460.2" fill="#fff" stroke="#111" stroke-width="2"/>
<line x1="522.7" y1="395.6" x2="522.7" y2="382.7" stroke="#111" stroke-width="2.1" stroke-linecap="butt"/>
<line x1="517.1" y1="382.7" x2="528.3000000000001" y2="382.7" stroke="#111" stroke-width="2.2" stroke-linecap="round"/>
<rect x="542.2" y="344.3" width="22" height="115.89999999999998" fill="#161616" stroke="none" stroke-width="0" />
<line x1="553.2" y1="344.3" x2="553.2" y2="335.1" stroke="#161616" stroke-width="2.1" stroke-linecap="butt"/>
<line x1="547.6" y1="335.1" x2="558.8000000000001" y2="335.1" stroke="#161616" stroke-width="2.2" stroke-linecap="round"/>
<line x1="538.1" y1="460.2" x2="538.1" y2="465" stroke="#111" stroke-width="1.8" stroke-linecap="butt"/>
<text x="538.1" y="477.6" font-family="Liberation Serif, serif" font-size="13" text-anchor="middle" font-weight="normal" fill="#1a1a1a" textLength="19.5" lengthAdjust="spacingAndGlyphs" >p27</text>
<text x="552.2" y="331.5" font-family="Liberation Serif, serif" font-size="12.5" text-anchor="middle" font-weight="normal" fill="#444" stroke="#444" stroke-width="0.25">*</text>
<path d="M594.0,460.2 V395.6 H614.2 V460.2" fill="#fff" stroke="#111" stroke-width="2"/>
<line x1="604.1" y1="395.6" x2="604.1" y2="382.0" stroke="#111" stroke-width="2.1" stroke-linecap="butt"/>
<line x1="598.5" y1="382.0" x2="609.7" y2="382.0" stroke="#111" stroke-width="2.2" stroke-linecap="round"/>
<rect x="622.6" y="424.0" width="22.3" height="36.19999999999999" fill="#161616" stroke="none" stroke-width="0" />
<line x1="633.75" y1="424.0" x2="633.75" y2="411.5" stroke="#161616" stroke-width="2.1" stroke-linecap="butt"/>
<line x1="628.15" y1="411.5" x2="639.35" y2="411.5" stroke="#161616" stroke-width="2.2" stroke-linecap="round"/>
<line x1="618.3" y1="460.2" x2="618.3" y2="465" stroke="#111" stroke-width="1.8" stroke-linecap="butt"/>
<text x="618.3" y="477.6" font-family="Liberation Serif, serif" font-size="13" text-anchor="middle" font-weight="normal" fill="#1a1a1a" textLength="45.2" lengthAdjust="spacingAndGlyphs" >cyclinD1</text>
<text x="632.75" y="407.9" font-family="Liberation Serif, serif" font-size="12.5" text-anchor="middle" font-weight="normal" fill="#444" stroke="#444" stroke-width="0.25">*</text>
<path d="M674.2,460.2 V395.6 H694.4000000000001 V460.2" fill="#fff" stroke="#111" stroke-width="2"/>
<line x1="684.3000000000001" y1="395.6" x2="684.3000000000001" y2="381.5" stroke="#111" stroke-width="2.1" stroke-linecap="butt"/>
<line x1="678.7" y1="381.5" x2="689.9000000000001" y2="381.5" stroke="#111" stroke-width="2.2" stroke-linecap="round"/>
<rect x="703.8" y="417.8" width="21.8" height="42.39999999999998" fill="#161616" stroke="none" stroke-width="0" />
<line x1="714.6999999999999" y1="417.8" x2="714.6999999999999" y2="411.5" stroke="#161616" stroke-width="2.1" stroke-linecap="butt"/>
<line x1="709.0999999999999" y1="411.5" x2="720.3" y2="411.5" stroke="#161616" stroke-width="2.2" stroke-linecap="round"/>
<line x1="698.9" y1="460.2" x2="698.9" y2="465" stroke="#111" stroke-width="1.8" stroke-linecap="butt"/>
<text x="698.9" y="477.6" font-family="Liberation Serif, serif" font-size="13" text-anchor="middle" font-weight="normal" fill="#1a1a1a" textLength="40.2" lengthAdjust="spacingAndGlyphs" >cyclinE</text>
<text x="713.6999999999999" y="407.9" font-family="Liberation Serif, serif" font-size="12.5" text-anchor="middle" font-weight="normal" fill="#444" stroke="#444" stroke-width="0.25">*</text>
<line x1="498.5" y1="298.55" x2="498.5" y2="461.09999999999997" stroke="#111" stroke-width="1.8" stroke-linecap="butt"/>
<line x1="497.6" y1="460.2" x2="739.8" y2="460.2" stroke="#111" stroke-width="1.8" stroke-linecap="butt"/>
<line x1="493.3" y1="460.2" x2="498.5" y2="460.2" stroke="#111" stroke-width="1.8" stroke-linecap="butt"/>
<text x="490.2" y="464.4" font-family="Liberation Serif, serif" font-size="13" text-anchor="end" font-weight="normal" fill="#1a1a1a" textLength="15.6" lengthAdjust="spacingAndGlyphs" >0.0</text>
<line x1="493.3" y1="428.05" x2="498.5" y2="428.05" stroke="#111" stroke-width="1.8" stroke-linecap="butt"/>
<text x="490.2" y="432.25" font-family="Liberation Serif, serif" font-size="13" text-anchor="end" font-weight="normal" fill="#1a1a1a" textLength="15.6" lengthAdjust="spacingAndGlyphs" >0.5</text>
<line x1="493.3" y1="395.9" x2="498.5" y2="395.9" stroke="#111" stroke-width="1.8" stroke-linecap="butt"/>
<text x="490.2" y="400.09999999999997" font-family="Liberation Serif, serif" font-size="13" text-anchor="end" font-weight="normal" fill="#1a1a1a" textLength="15.6" lengthAdjust="spacingAndGlyphs" >1.0</text>
<line x1="493.3" y1="363.75" x2="498.5" y2="363.75" stroke="#111" stroke-width="1.8" stroke-linecap="butt"/>
<text x="490.2" y="367.95" font-family="Liberation Serif, serif" font-size="13" text-anchor="end" font-weight="normal" fill="#1a1a1a" textLength="15.6" lengthAdjust="spacingAndGlyphs" >1.5</text>
<line x1="493.3" y1="331.6" x2="498.5" y2="331.6" stroke="#111" stroke-width="1.8" stroke-linecap="butt"/>
<text x="490.2" y="335.8" font-family="Liberation Serif, serif" font-size="13" text-anchor="end" font-weight="normal" fill="#1a1a1a" textLength="15.6" lengthAdjust="spacingAndGlyphs" >2.0</text>
<line x1="493.3" y1="299.45" x2="498.5" y2="299.45" stroke="#111" stroke-width="1.8" stroke-linecap="butt"/>
<text x="490.2" y="303.65" font-family="Liberation Serif, serif" font-size="13" text-anchor="end" font-weight="normal" fill="#1a1a1a" textLength="15.6" lengthAdjust="spacingAndGlyphs" >2.5</text>
<text transform="translate(466.0,455.9) rotate(-90)" font-family="Liberation Serif, serif" font-size="12.3" fill="#222" textLength="67.6" lengthAdjust="spacing">protein level</text>
<text transform="translate(466.0,379.8) rotate(-90)" font-family="Liberation Serif, serif" font-size="12.3" fill="#222" textLength="77.6" lengthAdjust="spacing">(% of control)</text>
<rect x="686" y="287.8" width="17.8" height="8.9" fill="#fff" stroke="#111" stroke-width="2" rx="0.8"/>
<rect x="685" y="305.3" width="19.7" height="10.9" fill="#161616" stroke="none" stroke-width="0" />
<text x="713" y="296.8" font-family="Liberation Serif, serif" font-size="13" text-anchor="start" font-weight="normal" fill="#1a1a1a" textLength="39.9" lengthAdjust="spacing" >control</text>
<text x="713" y="315.3" font-family="Liberation Serif, serif" font-size="13" text-anchor="start" font-weight="normal" fill="#1a1a1a" textLength="61.7" lengthAdjust="spacing" >ISL(10μM)</text>
</svg>
</body></html>
